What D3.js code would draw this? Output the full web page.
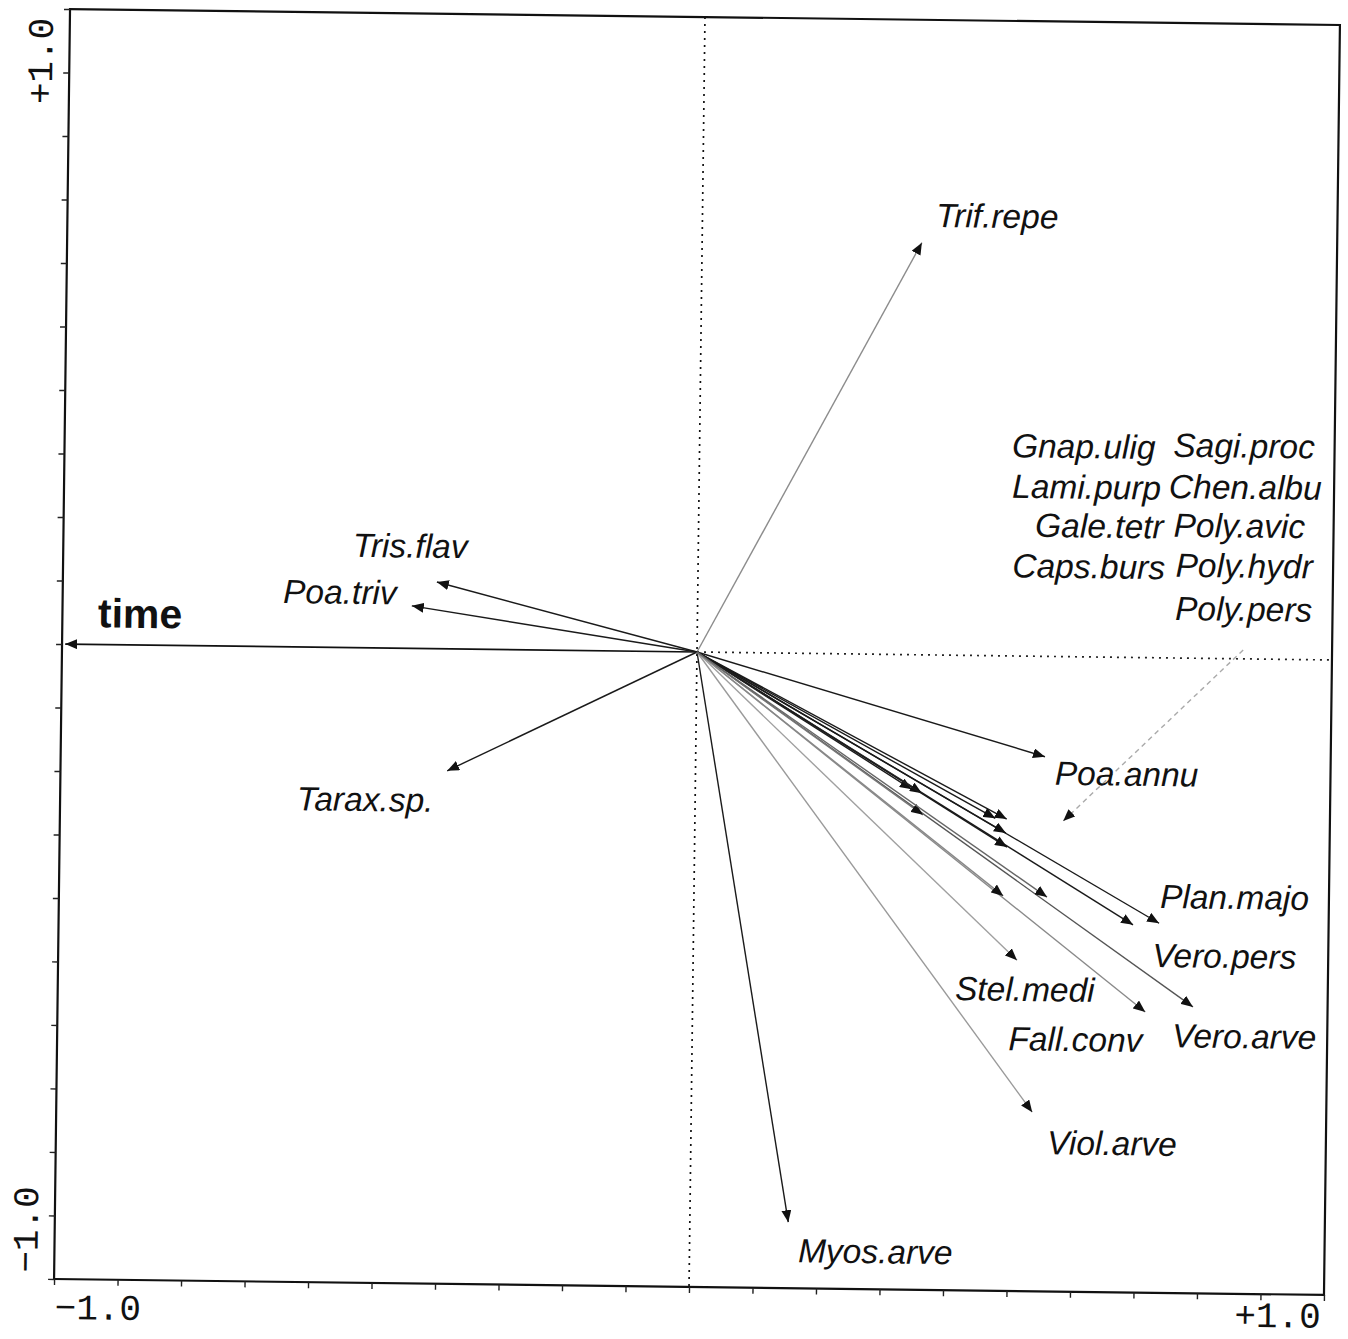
<!DOCTYPE html>
<html>
<head>
<meta charset="utf-8">
<script src="https://cdn.jsdelivr.net/npm/d3@7"></script>
<style>
  body { margin: 0; background: #fff; }
  .lab { font-family: "Liberation Sans", Arial, sans-serif; font-style: italic; font-size: 33.5px; fill: #111; }
  .tk { font-family: "Liberation Mono", "Courier New", monospace; font-size: 36px; fill: #111; }
</style>
</head>
<body>
<svg id="chart"></svg>
<script>
// species scores on axis 1 / axis 2
const species = ["Trif.repe", "Tris.flav", "Poa.triv", "Tarax.sp.", "Myos.arve", "Poa.annu",
  "Viol.arve", "Plan.majo", "Vero.pers", "Vero.arve", "Fall.conv", "Stel.medi",
  "Gnap.ulig", "Sagi.proc", "Lami.purp", "Chen.albu", "Gale.tetr", "Poly.avic",
  "Caps.burs", "Poly.hydr", "Poly.pers"];
const axis1 = [0.346, -0.411, -0.450, -0.391, 0.155, 0.550,
  0.537, 0.733, 0.692, 0.788, 0.713, 0.510,
  0.341, 0.357, 0.359, 0.473, 0.491, 0.490,
  0.492, 0.487, 0.556];
const axis2 = [0.649, 0.105, 0.067, -0.192, -0.896, -0.158,
  -0.718, -0.418, -0.421, -0.549, -0.558, -0.479,
  -0.212, -0.218, -0.252, -0.256, -0.257, -0.279,
  -0.301, -0.378, -0.379];

// label anchors (start of text, baseline) in axis units
const labelX = [0.368, -0.544, -0.653, -0.627, 0.171, 0.566,
  0.561, 0.734, 0.723, 0.756, 0.498, 0.413,
  0.492, 0.746, 0.493, 0.740, 0.530, 0.748,
  0.495, 0.752, 0.752];
const labelY = [0.674, 0.143, 0.069, -0.257, -0.959, -0.202,
  -0.784, -0.394, -0.487, -0.613, -0.621, -0.543,
  0.313, 0.317, 0.249, 0.252, 0.188, 0.191,
  0.124, 0.128, 0.060];

// environmental variable
const envName = "time";
const envScore = [-0.995, 0.0];
const envLabel = [-0.944, 0.027];

// leader from the label block down to the cluster
const pointerFrom = [0.860, 0.014];
const pointerTo = [0.580, -0.259];

const tickValues = d3.range(-10, 11).map(i => i / 10);

const W = 1348, H = 1339;
const mLeft = 62, mRight = 1332, mTop = 17, mBottom = 1287;

const svg = d3.select("#chart").attr("width", W).attr("height", H);

const x = d3.scaleLinear().domain([-1, 1]).range([mLeft, mRight]);
const y = d3.scaleLinear().domain([-1, 1]).range([mBottom, mTop]);

svg.append("defs").append("marker")
  .attr("id", "head")
  .attr("markerUnits", "userSpaceOnUse")
  .attr("viewBox", "0 0 12 10")
  .attr("refX", 12).attr("refY", 5)
  .attr("markerWidth", 12).attr("markerHeight", 10)
  .attr("orient", "auto")
  .append("path").attr("d", "M0,0L12,5L0,10Z").attr("fill", "#111");

// the scan is turned a little clockwise
const g = svg.append("g")
  .attr("transform", `rotate(0.72, ${x(0)}, ${y(0)})`);

// frame
g.append("rect")
  .attr("x", mLeft).attr("y", mTop)
  .attr("width", mRight - mLeft).attr("height", mBottom - mTop)
  .attr("fill", "none").attr("stroke", "#111").attr("stroke-width", 2.2);

// ticks
g.append("g")
  .attr("transform", `translate(0, ${mBottom})`)
  .call(d3.axisBottom(x).tickValues(tickValues).tickSize(6).tickFormat(""))
  .call(a => a.select(".domain").remove())
  .call(a => a.selectAll("line").attr("stroke", "#222").attr("stroke-width", 1.4));

g.append("g")
  .attr("transform", `translate(${mLeft}, 0)`)
  .call(d3.axisLeft(y).tickValues(tickValues).tickSize(6).tickFormat(""))
  .call(a => a.select(".domain").remove())
  .call(a => a.selectAll("line").attr("stroke", "#222").attr("stroke-width", 1.4));

// tick labels at the ends
g.append("text").attr("class", "tk").attr("x", mLeft + 1).attr("y", mBottom + 40).text("\u22121.0");
g.append("text").attr("class", "tk").attr("x", mRight - 3).attr("y", mBottom + 33)
  .attr("text-anchor", "end").text("+1.0");
g.append("text").attr("class", "tk")
  .attr("transform", `translate(${mLeft - 17}, ${mTop + 9}) rotate(-90)`)
  .attr("text-anchor", "end").text("+1.0");
g.append("text").attr("class", "tk")
  .attr("transform", `translate(${mLeft - 17}, ${mBottom - 6}) rotate(-90)`)
  .attr("text-anchor", "start").text("\u22121.0");

// dotted zero lines
g.append("line")
  .attr("x1", x(0)).attr("x2", x(0)).attr("y1", mTop).attr("y2", mBottom)
  .attr("stroke", "#111").attr("stroke-width", 1.7).attr("stroke-dasharray", "2,5");
g.append("line")
  .attr("x1", x(0)).attr("x2", mRight).attr("y1", y(0)).attr("y2", y(0))
  .attr("stroke", "#222").attr("stroke-width", 1.7).attr("stroke-dasharray", "2,5");

// line tones as they come out of the scan
const grey = {"Trif.repe": "#8c8c8c", "Viol.arve": "#9a9a9a", "Stel.medi": "#a0a0a0",
  "Fall.conv": "#8a8a8a", "Vero.arve": "#555", "Lami.purp": "#777", "Poly.hydr": "#888",
  "Poly.pers": "#666", "Sagi.proc": "#444"};

const rows = species.map((s, i) => ({name: s, a1: axis1[i], a2: axis2[i], lx: labelX[i], ly: labelY[i]}));

// environmental arrow
g.append("line")
  .attr("x1", x(0)).attr("y1", y(0))
  .attr("x2", x(envScore[0])).attr("y2", y(envScore[1]))
  .attr("stroke", "#111").attr("stroke-width", 1.7)
  .attr("marker-end", "url(#head)");

// species arrows
g.selectAll("line.sp")
  .data(rows)
  .join("line")
  .attr("class", "sp")
  .attr("x1", x(0)).attr("y1", y(0))
  .attr("x2", d => x(d.a1)).attr("y2", d => y(d.a2))
  .attr("stroke", d => grey[d.name] || "#1a1a1a")
  .attr("stroke-width", 1.4)
  .attr("marker-end", "url(#head)");

// leader
g.append("line")
  .attr("x1", x(pointerFrom[0])).attr("y1", y(pointerFrom[1]))
  .attr("x2", x(pointerTo[0])).attr("y2", y(pointerTo[1]))
  .attr("stroke", "#aaa").attr("stroke-width", 1.4).attr("stroke-dasharray", "5,4")
  .attr("marker-end", "url(#head)");

// labels
g.selectAll("text.lab")
  .data(rows)
  .join("text")
  .attr("class", "lab")
  .attr("x", d => x(d.lx)).attr("y", d => y(d.ly))
  .text(d => d.name);

g.append("text")
  .attr("x", x(envLabel[0])).attr("y", y(envLabel[1]))
  .attr("font-family", "Liberation Sans, Arial, sans-serif")
  .attr("font-weight", "bold").attr("font-size", 41).attr("fill", "#111")
  .text(envName);
</script>
</body>
</html>
